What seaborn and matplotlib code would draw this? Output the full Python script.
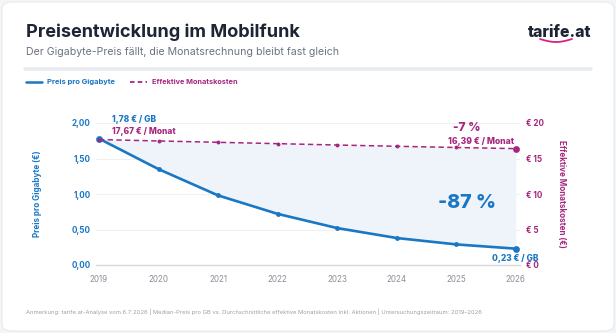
import matplotlib
matplotlib.use("Agg")
import matplotlib.pyplot as plt
import seaborn as sns
import pandas as pd
import numpy as np
from matplotlib.patches import FancyBboxPatch
from matplotlib.lines import Line2D

years = [2019, 2020, 2021, 2022, 2023, 2024, 2025, 2026]
price_per_gb = [1.78, 1.35, 0.98, 0.72, 0.52, 0.38, 0.29, 0.23]
monthly_cost = [17.67, 17.47, 17.28, 17.09, 16.90, 16.72, 16.55, 16.39]
left_ticks = [0.0, 0.5, 1.0, 1.5, 2.0]
left_ticklabels = ["0,00", "0,50", "1,00", "1,50", "2,00"]
right_ticks = [0, 5, 10, 15, 20]
right_ticklabels = ["€ 0", "€ 5", "€ 10", "€ 15", "€ 20"]

df = pd.DataFrame({"Jahr": years, "GB": price_per_gb, "Monat": monthly_cost})

BLUE = "#1a77c4"
MAG = "#a6267f"
GRAY = "#8a8f98"
DARK = "#1d2433"

sns.set_theme(style="white")
plt.rcParams["font.family"] = ["Inter", "DejaVu Sans"]

W, H = 616, 333
fig = plt.figure(figsize=(W / 100, H / 100), dpi=100)
fig.patch.set_facecolor("#f4f5f6")
card = FancyBboxPatch((2 / W, 2 / H), (W - 4) / W, (H - 4) / H,
                      boxstyle="round,pad=0,rounding_size=0.018",
                      transform=fig.transFigure, facecolor="white",
                      edgecolor="#e8eaed", linewidth=0.8, zorder=-10)
fig.patches.append(card)

def fx(x):
    return x / W

def fy(y):
    return 1 - y / H

fitting = []

def fit(t, width_px):
    fitting.append((t, width_px))
    return t

fit(fig.text(fx(25.7), fy(37.3), "Preisentwicklung im Mobilfunk", fontsize=12,
             fontweight="bold", color=DARK, va="baseline", ha="left"), 274)
fit(fig.text(fx(25.7), fy(55), "Der Gigabyte-Preis fällt, die Monatsrechnung bleibt fast gleich",
             fontsize=7.55, color="#6b7280", va="baseline", ha="left"), 309)
fit(fig.text(fx(591), fy(37.3), "tarife.at", fontsize=12, fontweight="heavy",
             color=DARK, va="baseline", ha="right"), 64)
# logo swoosh
sx = np.linspace(fx(540), fx(572), 30)
sy = fy(39) - 0.009 * np.sin(np.linspace(0, np.pi, 30))
fig.add_artist(Line2D(sx, sy, color="#d6247f", lw=1.3, transform=fig.transFigure))

# separator
fig.add_artist(Line2D([fx(25), fx(591)], [fy(69.3), fy(69.3)], color="#e8ecf0", lw=2.6,
                      transform=fig.transFigure, solid_capstyle="round"))
# legend
fig.add_artist(Line2D([fx(25.5), fx(41.5)], [fy(81.7), fy(81.7)], color=BLUE, lw=1.8,
                      transform=fig.transFigure))
fit(fig.text(fx(46.7), fy(81.7), "Preis pro Gigabyte", fontsize=5.45, fontweight="bold",
             color=BLUE, va="center", ha="left"), 68)
fig.add_artist(Line2D([fx(130), fx(147)], [fy(81.7), fy(81.7)], color=MAG, lw=1.3,
                      ls=(0, (2.5, 1.8)), transform=fig.transFigure))
fit(fig.text(fx(151.7), fy(81.7), "Effektive Monatskosten", fontsize=5.45, fontweight="bold",
             color=MAG, va="center", ha="left"), 86)

# axes
ax = fig.add_axes([fx(96), fy(265), fx(520) - fx(96), (265 - 123) / H])
ax.set_facecolor("none")
ax2 = ax.twinx()

ax.fill_between(df["Jahr"], df["GB"], df["Monat"] / 10, color="#eef4fa", zorder=1, lw=0)
sns.lineplot(data=df, x="Jahr", y="GB", ax=ax, color=BLUE, lw=1.9, marker="o",
             markersize=3.5, markeredgewidth=0, zorder=4)
ax.scatter([years[0], years[-1]], [price_per_gb[0], price_per_gb[-1]], s=24,
           color=BLUE, zorder=5, lw=0)
sns.lineplot(data=df, x="Jahr", y="Monat", ax=ax2, color=MAG, lw=1.1,
             linestyle=(0, (3.5, 2.2)), marker="o", markersize=2.8,
             markeredgewidth=0, zorder=4)
ax2.scatter([years[-1]], [monthly_cost[-1]], s=24, color=MAG, zorder=5, lw=0)

ax.set_xlim(2018.95, 2026.07)
ax.set_ylim(0, 2.0)
ax2.set_ylim(0, 20)
ax.set_yticks(left_ticks)
ax.set_yticklabels(left_ticklabels)
ax2.set_yticks(right_ticks)
ax2.set_yticklabels(right_ticklabels)
ax.set_xticks(years)
ax.set_xticklabels([str(y) for y in years])

ax.grid(axis="y", color="#eef0f3", lw=0.8)
ax.set_axisbelow(True)
for a in (ax, ax2):
    for s in a.spines.values():
        s.set_visible(False)
ax.spines["bottom"].set_visible(True)
ax.spines["bottom"].set_color("#d5d9df")
ax.spines["bottom"].set_linewidth(1.0)

ax.tick_params(axis="y", length=0, pad=4, labelsize=5.8, labelcolor=BLUE)
ax.tick_params(axis="x", length=0, pad=7, labelsize=5.8, labelcolor=GRAY)
ax2.tick_params(axis="y", length=0, pad=4, labelsize=5.8, labelcolor=MAG)
for t in ax.get_yticklabels():
    t.set_fontweight("bold")
for t in ax2.get_yticklabels():
    t.set_fontweight("bold")

ax.set_xlabel("")
ax.set_ylabel("Preis pro Gigabyte (€)", fontsize=5.8, fontweight="bold",
              color=BLUE, labelpad=21)
ax2.set_ylabel("Effektive Monatskosten (€)", fontsize=5.8, fontweight="bold",
               color=MAG, rotation=270, labelpad=16)

# annotations (offsets in points; 1 px = 0.72 pt)
fit(ax.annotate("1,78 € / GB", (years[0], price_per_gb[0]), xytext=(9.6, 11.9),
                textcoords="offset points", fontsize=6.6, fontweight="heavy",
                color=BLUE, ha="left", va="baseline", annotation_clip=False), 44)
fit(ax2.annotate("17,67 € / Monat", (years[0], monthly_cost[0]), xytext=(9.6, 4.3),
                 textcoords="offset points", fontsize=6.6, fontweight="heavy",
                 color=MAG, ha="left", va="baseline", annotation_clip=False), 64)
ax2.annotate("-7 %", (years[-2], monthly_cost[-1]), xytext=(7.5, 12.8),
             textcoords="offset points", fontsize=8.6, fontweight="heavy",
             color=MAG, ha="center", va="baseline", annotation_clip=False)
fit(ax2.annotate("16,39 € / Monat", (years[-1], monthly_cost[-1]), xytext=(-1, 3.2),
                 textcoords="offset points", fontsize=6.6, fontweight="heavy",
                 color=MAG, ha="right", va="baseline", annotation_clip=False), 66)
fit(ax.annotate("-87 %", (years[-2], price_per_gb[-2]), xytext=(7.5, 26),
                textcoords="offset points", fontsize=16, fontweight="heavy",
                color=BLUE, ha="center", va="baseline", annotation_clip=False), 58)
fit(ax.annotate("0,23 € / GB", (years[-1], price_per_gb[-1]), xytext=(16, -8.6),
                textcoords="offset points", fontsize=6.6, fontweight="heavy",
                color=BLUE, ha="right", va="baseline", annotation_clip=False), 46.5)

fit(fig.text(fx(25.7), fy(314), "Anmerkung: tarife.at-Analyse vom 6.7.2026 | Median-Preis pro GB vs. "
             "Durchschnittliche effektive Monatskosten inkl. Aktionen | Untersuchungszeitraum: 2019–2026",
             fontsize=4.2, color="#9aa0a8", ha="left", va="baseline"), 461)

renderer = fig.canvas.get_renderer()
for _ in range(2):
    for t, wpx in fitting:
        bb = t.get_window_extent(renderer)
        if bb.width > 0:
            t.set_fontsize(t.get_fontsize() * wpx / bb.width)

fig.savefig("out.png", dpi=100, facecolor=fig.get_facecolor())
